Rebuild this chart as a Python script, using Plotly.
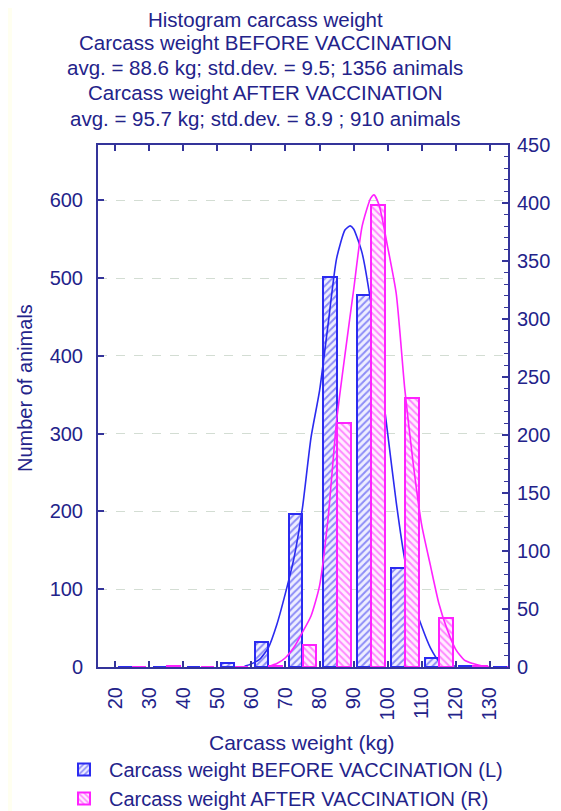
import plotly.graph_objects as go

# ---- data ----
bins = [20, 30, 40, 50, 60, 70, 80, 90, 100, 110, 120, 130]
before_counts = [0, 0, 0, 5, 32, 197, 501, 478, 127, 12, 1, 0]
after_counts = [0, 1, 0, 0, 1, 19, 210, 398, 232, 42, 1, 0]

before_curve_x = [58, 60, 62.5, 65, 67.5, 70, 72.5, 75, 77.5, 80, 82.5, 85, 87.5, 89, 90,
                  92.5, 95, 97.5, 100, 102.5, 105, 107.5, 110, 112.5, 115, 117.5, 120]
before_curve_y = [1, 4, 10, 25, 55, 95, 140, 205, 295, 355, 440, 525, 562, 567, 563,
                  532, 470, 388, 300, 212, 138, 85, 52, 25, 8, 3, 1]

after_curve_x = [65, 67.5, 70, 72.5, 75, 77.5, 80, 82.5, 85, 87.5, 90, 92.5, 95, 96,
                 97.5, 100, 102.5, 105, 107.5, 110, 112.5, 115, 117.5, 120, 122.5, 125, 127.5, 130]
after_curve_y = [0.5, 3, 8, 17, 30, 44, 70, 128, 212, 270, 325, 380, 404, 407,
                 398, 362, 322, 240, 175, 122, 88, 55, 32, 15, 6, 3, 1, 0]

title_lines = [
    "Histogram carcass weight",
    "Carcass weight BEFORE VACCINATION",
    "avg. = 88.6 kg; std.dev. = 9.5; 1356 animals",
    "Carcass weight AFTER VACCINATION",
    "avg. = 95.7 kg; std.dev. = 8.9 ; 910 animals",
]
x_ticks = [20, 30, 40, 50, 60, 70, 80, 90, 100, 110, 120, 130]

# ---- style ----
NAVY = "#23238a"
AXIS = "#34349a"
BLUE = "#2b2bf0"
PINK = "#ff22ff"
FONT = "Liberation Sans, Arial, sans-serif"

# the page body adds an 8px margin, so the figure is laid out 8px smaller
OFF = 8
W, H = 561 - OFF, 811 - OFF
# plot area in page pixels
PL, PR, PT, PB = 98, 508, 145, 667
L, R, T, B = PL - OFF, PR - OFF, PT - OFF, PB - OFF


def px_x(px):
    return (px - PL) / (PR - PL)


def px_y(py):
    return (PB - py) / (PB - PT)


fig = go.Figure()

fig.add_trace(go.Bar(
    x=bins, y=before_counts, width=4.0, offset=1.0,
    name="Carcass weight BEFORE VACCINATION (L)",
    marker=dict(color="#eef0ff", line=dict(color=BLUE, width=2),
                pattern=dict(shape="/", fgcolor=BLUE, bgcolor="#eeeeff", size=5, solidity=0.4)),
    yaxis="y",
))
fig.add_trace(go.Scatter(
    x=before_curve_x, y=before_curve_y, mode="lines",
    line=dict(color=BLUE, width=1.6, shape="spline", smoothing=0.6),
    showlegend=False, yaxis="y", hoverinfo="skip",
))
fig.add_trace(go.Bar(
    x=bins, y=after_counts, width=4.0, offset=5.1,
    name="Carcass weight AFTER VACCINATION (R)",
    marker=dict(color="#fff0ff", line=dict(color=PINK, width=2),
                pattern=dict(shape="\\", fgcolor=PINK, bgcolor="#ffeeff", size=5, solidity=0.4)),
    yaxis="y2",
))
fig.add_trace(go.Scatter(
    x=after_curve_x, y=after_curve_y, mode="lines",
    line=dict(color=PINK, width=1.6, shape="spline", smoothing=0.6),
    showlegend=False, yaxis="y2", hoverinfo="skip",
))

annotations = []
title_y = [20, 43, 67, 92, 118]
for txt, yy in zip(title_lines, title_y):
    annotations.append(dict(text=txt, x=px_x(265), y=px_y(yy), xref="paper", yref="paper",
                            xanchor="center", yanchor="middle", showarrow=False, borderpad=0,
                            font=dict(size=20.5, color=NAVY, family=FONT)))
annotations.append(dict(text="Carcass weight (kg)", x=px_x(302), y=px_y(742), xref="paper", yref="paper",
                        xanchor="center", yanchor="middle", showarrow=False,
                        font=dict(size=21, color=NAVY, family=FONT)))
annotations.append(dict(text="Number of animals", x=px_x(25), y=px_y(388), xref="paper", yref="paper",
                        xanchor="center", yanchor="middle", showarrow=False, textangle=-90,
                        font=dict(size=20, color=NAVY, family=FONT)))

fig.update_layout(
    width=W, height=H,
    margin=dict(l=L, r=W - R, t=T, b=H - B, pad=0, autoexpand=False),
    paper_bgcolor="#fffff0",
    plot_bgcolor="white",
    font=dict(family=FONT, color=NAVY, size=20),
    barmode="overlay",
    bargap=0,
    showlegend=True,
    legend=dict(x=px_x(59), y=px_y(750), xanchor="left", yanchor="top",
                font=dict(size=20, color=NAVY, family=FONT),
                bgcolor="rgba(0,0,0,0)", itemwidth=40, tracegroupgap=0,
                traceorder="normal"),
    annotations=annotations,
    shapes=[dict(type="rect", xref="paper", yref="paper", x0=px_x(12), x1=px_x(600),
                 y0=px_y(850), y1=px_y(6), fillcolor="white", line=dict(width=0), layer="below")],
    xaxis=dict(range=[15, 135.3], tickmode="array", tickvals=x_ticks,
               ticktext=[str(v) for v in x_ticks], tickangle=-90,
               ticks="inside", ticklen=6, tickcolor=AXIS, tickwidth=1.5,
               showline=True, linecolor=AXIS, linewidth=2, mirror="ticks",
               showgrid=False, zeroline=False, ticklabelstandoff=10,
               automargin=False,
               tickfont=dict(size=20, color=NAVY)),
    yaxis=dict(range=[0, 671], dtick=100, ticks="inside", ticklen=6, tickcolor=AXIS, tickwidth=1.5,
               showline=True, linecolor=AXIS, linewidth=2,
               showgrid=True, gridcolor="#d3ddd3", griddash="dash", gridwidth=1,
               zeroline=False, ticklabelstandoff=9, automargin=False,
               tickfont=dict(size=20, color=NAVY)),
    yaxis2=dict(range=[0, 450], dtick=50, overlaying="y", side="right",
                ticks="inside", ticklen=6, tickcolor=AXIS, tickwidth=1.5,
                minor=dict(ticks="inside", dtick=10, ticklen=4, tickcolor=AXIS, tickwidth=1),
                showline=True, linecolor=AXIS, linewidth=2,
                showgrid=False, zeroline=False, ticklabelstandoff=3, automargin=False,
                tickfont=dict(size=20, color=NAVY)),
)

fig.write_html("out.html")
